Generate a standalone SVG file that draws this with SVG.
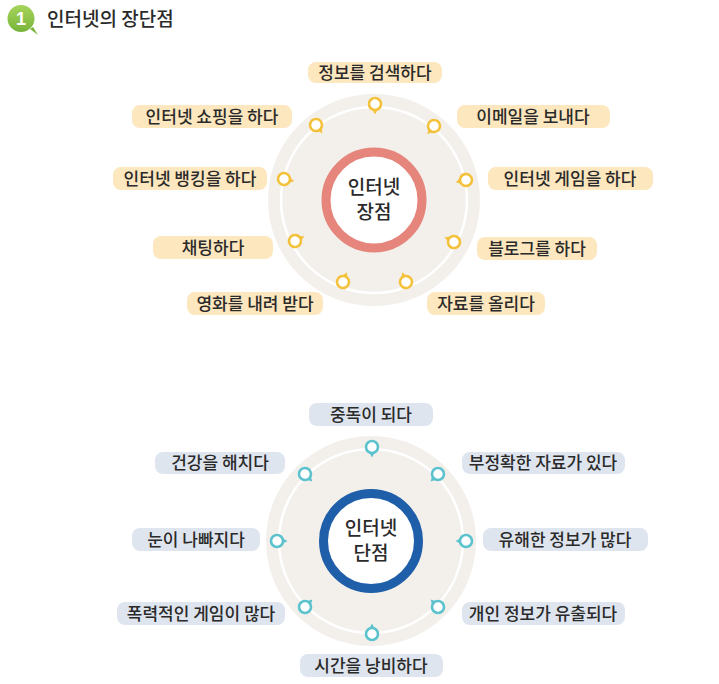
<svg xmlns="http://www.w3.org/2000/svg" width="719" height="684" viewBox="0 0 719 684">
<style>
text{font-family:"Noto Sans CJK KR","Noto Sans",sans-serif;fill:#2a2a2a;text-anchor:middle}
.lbl{font-size:17px;font-weight:500}
.ctr{font-size:19px;font-weight:500}
.ttl{font-size:19px;font-weight:500;text-anchor:start}
.by{fill:#fde7bf}
.bb{fill:#dfe5ee}
.disc{fill:#f3f0ec}
.wring{fill:none;stroke:#ffffff;stroke-width:2.5}
</style>
<defs>
<g id="pinY">
<polygon points="3,-4 10.5,0 3,4" fill="#f4c13b"/>
<circle cx="0" cy="0" r="6" fill="#ffffff" stroke="#f4c13b" stroke-width="2.6"/>
</g>
<g id="pinB">
<polygon points="3,-4 10.5,0 3,4" fill="#5cc2cd"/>
<circle cx="0" cy="0" r="6" fill="#ffffff" stroke="#5cc2cd" stroke-width="2.6"/>
</g>
<linearGradient id="gg" x1="0" y1="0" x2="0" y2="1">
<stop offset="0" stop-color="#a6d45a"/>
<stop offset="1" stop-color="#78b43a"/>
</linearGradient>
</defs>

<g id="title">
<path d="M30,29 L38,35 L33,27 Z" fill="#78b43a"/>
<circle cx="21" cy="18.5" r="13.5" fill="url(#gg)"/>
<text x="21" y="25" style="font-family:'Liberation Sans',sans-serif;font-size:18px;font-weight:bold;fill:#ffffff">1</text>
<text class="ttl" x="47" y="26">인터넷의 장단점</text>
</g>

<g id="adv-hub">
<circle class="disc" cx="374" cy="200" r="106"/>
<circle class="wring" cx="374" cy="200" r="93"/>
<circle cx="374" cy="200" r="48" fill="#ffffff" stroke="#e5857b" stroke-width="9"/>
<text class="ctr" x="374" y="194">인터넷</text>
<text class="ctr" x="374" y="219">장점</text>
</g>

<g id="dis-hub">
<circle class="disc" cx="371" cy="541" r="105"/>
<circle class="wring" cx="371" cy="541" r="92"/>
<circle cx="371" cy="541" r="47.5" fill="#ffffff" stroke="#1f5fa9" stroke-width="9"/>
<text class="ctr" x="371" y="535">인터넷</text>
<text class="ctr" x="371" y="560">단점</text>
</g>

<g id="connectors">
<use href="#pinY" transform="translate(375,104) rotate(90)"/>
<use href="#pinY" transform="translate(316,125) rotate(52)"/>
<use href="#pinY" transform="translate(434,126) rotate(129)"/>
<use href="#pinY" transform="translate(466,180) rotate(168)"/>
<use href="#pinY" transform="translate(284,179) rotate(13)"/>
<use href="#pinY" transform="translate(295,241) rotate(-27)"/>
<use href="#pinY" transform="translate(454,242) rotate(-152)"/>
<use href="#pinY" transform="translate(343,282) rotate(-69)"/>
<use href="#pinY" transform="translate(406,282) rotate(-111)"/>

<use href="#pinB" transform="translate(372,447) rotate(90)"/>
<use href="#pinB" transform="translate(305,474) rotate(46)"/>
<use href="#pinB" transform="translate(438,474) rotate(135)"/>
<use href="#pinB" transform="translate(277,541) rotate(0)"/>
<use href="#pinB" transform="translate(466,541) rotate(180)"/>
<use href="#pinB" transform="translate(305,607) rotate(-45)"/>
<use href="#pinB" transform="translate(438,607) rotate(-135)"/>
<use href="#pinB" transform="translate(372,634) rotate(-90)"/>
</g>

<g id="a1"><rect class="by" x="308" y="62" width="134" height="21" rx="8"/><text class="lbl" x="375" y="79">정보를 검색하다</text></g>
<g id="a2"><rect class="by" x="132" y="105" width="160" height="23" rx="8"/><text class="lbl" x="212" y="122.5">인터넷 쇼핑을 하다</text></g>
<g id="a3"><rect class="by" x="457" y="105" width="153" height="23" rx="8"/><text class="lbl" x="533" y="122.5">이메일을 보내다</text></g>
<g id="a4"><rect class="by" x="113" y="167" width="154" height="23" rx="8"/><text class="lbl" x="190" y="184.5">인터넷 뱅킹을 하다</text></g>
<g id="a5"><rect class="by" x="488" y="167" width="165" height="23" rx="8"/><text class="lbl" x="570" y="184.5">인터넷 게임을 하다</text></g>
<g id="a6"><rect class="by" x="153" y="236" width="120" height="23" rx="8"/><text class="lbl" x="213" y="253.5">채팅하다</text></g>
<g id="a7"><rect class="by" x="477" y="237" width="120" height="23" rx="8"/><text class="lbl" x="537" y="254.5">블로그를 하다</text></g>
<g id="a8"><rect class="by" x="187" y="292" width="136" height="23" rx="8"/><text class="lbl" x="255" y="309.5">영화를 내려 받다</text></g>
<g id="a9"><rect class="by" x="427" y="292" width="118" height="23" rx="8"/><text class="lbl" x="486" y="309.5">자료를 올리다</text></g>

<g id="d1"><rect class="bb" x="309" y="403" width="124" height="23" rx="8"/><text class="lbl" x="371" y="420.5">중독이 되다</text></g>
<g id="d2"><rect class="bb" x="155" y="452" width="130" height="22" rx="8"/><text class="lbl" x="220" y="469">건강을 해치다</text></g>
<g id="d3"><rect class="bb" x="462" y="452" width="163" height="22" rx="8"/><text class="lbl" x="543" y="469">부정확한 자료가 있다</text></g>
<g id="d4"><rect class="bb" x="132" y="528" width="128" height="23" rx="8"/><text class="lbl" x="196" y="545.5">눈이 나빠지다</text></g>
<g id="d5"><rect class="bb" x="483" y="528" width="165" height="23" rx="8"/><text class="lbl" x="565" y="545.5">유해한 정보가 많다</text></g>
<g id="d6"><rect class="bb" x="117" y="602" width="168" height="23" rx="8"/><text class="lbl" x="201" y="619.5">폭력적인 게임이 많다</text></g>
<g id="d7"><rect class="bb" x="462" y="602" width="163" height="23" rx="8"/><text class="lbl" x="543" y="619.5">개인 정보가 유출되다</text></g>
<g id="d8"><rect class="bb" x="300" y="654" width="143" height="23" rx="8"/><text class="lbl" x="371" y="671.5">시간을 낭비하다</text></g>
</svg>
